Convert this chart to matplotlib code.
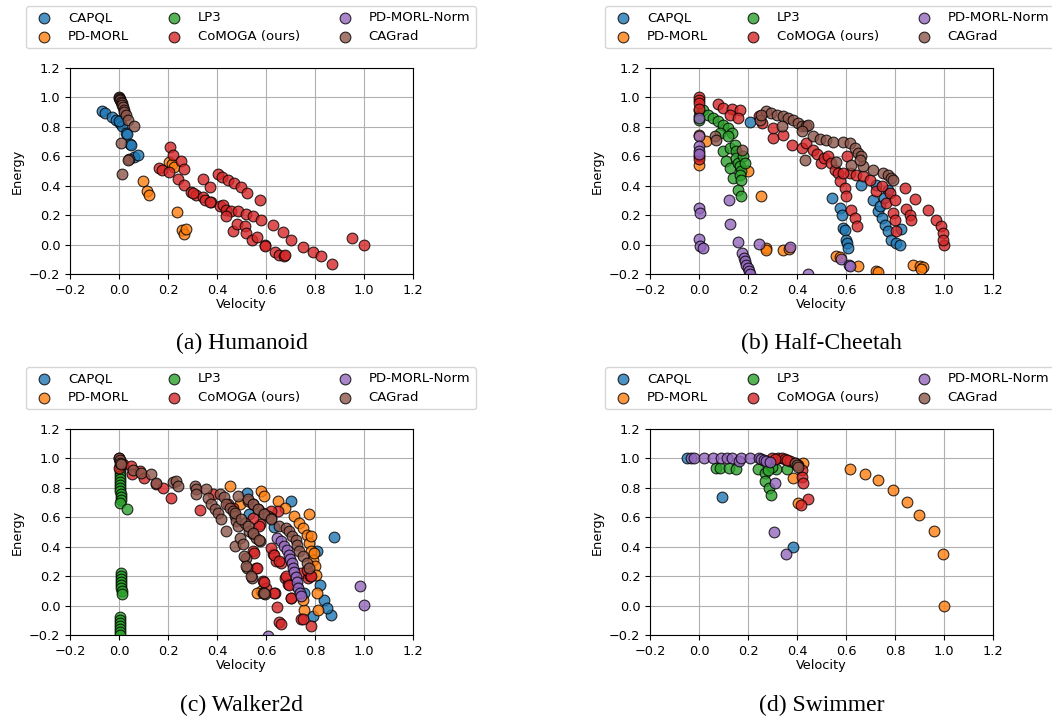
import matplotlib
matplotlib.use("Agg")
import matplotlib.pyplot as plt
import numpy as np

plt.rcParams['font.size'] = 9.3

methods = ['CAPQL', 'PD-MORL', 'LP3', 'CoMOGA (ours)', 'PD-MORL-Norm', 'CAGrad']
colors = ['tab:blue', 'tab:orange', 'tab:green', 'tab:red', 'tab:purple', 'tab:brown']
ticks = [-0.2, 0.0, 0.2, 0.4, 0.6, 0.8, 1.0, 1.2]

# (velocity, energy) pairs

# ---- (a) Humanoid
hum_capql = [(-0.068, 0.91), (-0.058, 0.896), (-0.027, 0.87), (-0.011, 0.846), (0.003, 0.824),
             (0.014, 0.806), (0.027, 0.756), (0.034, 0.75), (0.043, 0.684), (0.047, 0.677),
             (0.061, 0.598), (0.078, 0.61), (0.0, 0.84)]
hum_pdmorl = [(0.097, 0.431), (0.115, 0.361), (0.122, 0.339), (0.205, 0.564), (0.215, 0.55),
              (0.223, 0.53), (0.236, 0.221), (0.259, 0.097), (0.266, 0.074), (0.273, 0.106)]
hum_lp3 = []
hum_comoga = [(0.209, 0.666), (0.22, 0.609), (0.254, 0.569), (0.264, 0.515), (0.162, 0.519),
              (0.176, 0.508), (0.203, 0.49), (0.239, 0.445), (0.266, 0.406), (0.293, 0.354),
              (0.315, 0.339), (0.341, 0.32), (0.351, 0.305), (0.374, 0.287), (0.341, 0.445),
              (0.372, 0.39), (0.403, 0.479), (0.422, 0.458), (0.443, 0.44), (0.469, 0.418),
              (0.497, 0.39), (0.524, 0.35), (0.574, 0.305), (0.412, 0.26), (0.426, 0.271),
              (0.436, 0.237), (0.459, 0.226), (0.486, 0.226), (0.518, 0.21), (0.547, 0.192),
              (0.578, 0.169), (0.628, 0.131), (0.669, 0.084), (0.703, 0.034), (0.75, -0.016),
              (0.791, -0.052), (0.824, -0.079), (0.869, -0.131), (0.436, 0.192), (0.466, 0.095),
              (0.482, 0.14), (0.514, 0.129), (0.52, 0.079), (0.541, 0.034), (0.564, 0.052),
              (0.595, 0.0), (0.597, -0.011), (0.635, -0.05), (0.653, -0.068), (0.672, -0.079),
              (0.676, -0.074), (0.953, 0.045), (1.0, 0.0), (0.3, 0.35), (0.37, 0.29)]
hum_pdnorm = []
hum_cagrad = [(0.0, 1.0), (0.002, 0.995), (0.005, 0.99), (0.004, 0.98), (0.008, 0.97),
              (0.011, 0.96), (0.012, 0.95), (0.016, 0.937), (0.02, 0.914), (0.022, 0.9),
              (0.027, 0.88), (0.038, 0.846), (0.061, 0.806), (0.009, 0.688), (0.04, 0.582),
              (0.035, 0.576), (0.014, 0.48)]

# ---- (b) Half-Cheetah
hc_capql = [(0.207, 0.83), (0.544, 0.317), (0.574, 0.249), (0.585, 0.204), (0.588, 0.113),
            (0.595, 0.102), (0.601, 0.034), (0.604, 0.011), (0.608, -0.023), (0.663, 0.407),
            (0.71, 0.305), (0.731, 0.226), (0.745, 0.181), (0.758, 0.136), (0.771, 0.09),
            (0.785, 0.034), (0.805, 0.011), (0.819, 0.0), (0.826, 0.106), (0.771, 0.373),
            (0.724, 0.407), (0.738, 0.26), (0.755, 0.317)]
hc_pdmorl = [(0.0, 0.747), (0.0, 0.543), (0.03, 0.701), (0.2, 0.502), (0.253, 0.328),
             (0.272, -0.023), (0.275, -0.038), (0.343, -0.038), (0.367, -0.029), (0.561, -0.075),
             (0.574, -0.084), (0.649, -0.147), (0.724, -0.181), (0.731, -0.188), (0.873, -0.14),
             (0.901, -0.147), (0.915, -0.154), (0.908, -0.165)]
hc_lp3 = [(0.0, 0.916), (0.0, 0.871), (0.0, 0.848), (0.016, 0.916), (0.037, 0.882),
          (0.057, 0.86), (0.078, 0.837), (0.098, 0.814), (0.118, 0.792), (0.135, 0.758),
          (0.084, 0.758), (0.118, 0.735), (0.098, 0.633), (0.125, 0.656), (0.146, 0.679),
          (0.152, 0.633), (0.112, 0.566), (0.125, 0.52), (0.139, 0.452), (0.15, 0.588),
          (0.159, 0.554), (0.166, 0.532), (0.173, 0.498), (0.166, 0.475), (0.173, 0.441),
          (0.159, 0.373), (0.173, 0.328), (0.18, 0.6), (0.186, 0.554)]
hc_comoga = [(0.0, 1.0), (0.0, 0.985), (0.0, 0.96), (0.0, 0.92), (0.0, 0.6), (0.0, 0.58),
             (0.078, 0.957), (0.098, 0.928), (0.136, 0.921), (0.166, 0.916), (0.125, 0.882),
             (0.159, 0.86), (0.244, 0.871), (0.259, 0.826), (0.302, 0.724), (0.302, 0.792),
             (0.343, 0.747), (0.38, 0.679), (0.422, 0.656), (0.435, 0.69), (0.465, 0.645),
             (0.481, 0.618), (0.499, 0.554), (0.51, 0.588), (0.527, 0.6), (0.54, 0.554),
             (0.554, 0.509), (0.567, 0.486), (0.574, 0.43), (0.595, 0.385), (0.599, 0.328),
             (0.604, 0.6), (0.615, 0.486), (0.622, 0.238), (0.635, 0.181), (0.645, 0.124),
             (0.588, 0.486), (0.642, 0.475), (0.669, 0.464), (0.697, 0.441), (0.724, 0.362),
             (0.745, 0.396), (0.765, 0.283), (0.778, 0.351), (0.792, 0.215), (0.799, 0.17),
             (0.805, 0.09), (0.799, 0.305), (0.839, 0.385), (0.88, 0.31), (0.846, 0.242),
             (0.86, 0.204), (0.867, 0.17), (0.935, 0.238), (0.969, 0.17), (0.989, 0.124),
             (0.996, 0.079), (1.0, 0.0), (0.996, 0.034)]
hc_pdnorm = [(0.0, 0.86), (0.0, 0.735), (0.0, 0.667), (0.0, 0.633), (0.0, 0.618),
             (0.0, 0.249), (0.005, 0.215), (0.0, 0.038), (0.005, -0.011), (0.016, -0.023),
             (0.121, 0.301), (0.128, 0.143), (0.161, 0.016), (0.177, -0.057), (0.182, -0.09),
             (0.188, -0.113), (0.193, -0.136), (0.199, -0.158), (0.204, -0.181), (0.209, -0.197),
             (0.244, 0.007), (0.373, -0.016), (0.445, -0.2), (0.581, -0.097), (0.612, -0.136),
             (0.615, -0.147)]
hc_cagrad = [(0.272, 0.905), (0.295, 0.894), (0.318, 0.882), (0.343, 0.871), (0.363, 0.86),
             (0.384, 0.844), (0.404, 0.826), (0.422, 0.808), (0.438, 0.803), (0.445, 0.815),
             (0.248, 0.848), (0.255, 0.882), (0.064, 0.735), (0.071, 0.713), (0.177, 0.645),
             (0.337, 0.803), (0.419, 0.769), (0.431, 0.577), (0.465, 0.735), (0.493, 0.717),
             (0.52, 0.708), (0.547, 0.695), (0.588, 0.695), (0.615, 0.69), (0.635, 0.656),
             (0.649, 0.622), (0.663, 0.6), (0.561, 0.559), (0.622, 0.543), (0.669, 0.532),
             (0.71, 0.509), (0.751, 0.486), (0.771, 0.475), (0.785, 0.452), (0.792, 0.441),
             (0.656, 0.577)]

# ---- (c) Walker2d
wk_capql = [(0.523, 0.762), (0.701, 0.71), (0.877, 0.467), (0.532, 0.619), (0.634, 0.535),
            (0.81, 0.37), (0.82, 0.138), (0.836, 0.041), (0.866, -0.061), (0.849, -0.016),
            (0.793, -0.073), (0.755, 0.086), (0.728, 0.131)]
wk_pdmorl = [(0.455, 0.812), (0.58, 0.778), (0.593, 0.744), (0.647, 0.714), (0.677, 0.664),
             (0.715, 0.608), (0.735, 0.562), (0.749, 0.528), (0.766, 0.483), (0.776, 0.426),
             (0.782, 0.37), (0.793, 0.313), (0.799, 0.268), (0.803, 0.211), (0.81, 0.086),
             (0.812, -0.032), (0.755, -0.032), (0.749, 0.041), (0.58, 0.098), (0.564, 0.086),
             (0.782, 0.472), (0.796, 0.358), (0.495, 0.692), (0.776, 0.619)]
wk_lp3 = [(0.003, 0.98), (0.003, 0.95), (0.004, 0.92), (0.004, 0.9), (0.005, 0.88),
          (0.005, 0.86), (0.005, 0.84), (0.006, 0.82), (0.006, 0.8), (0.006, 0.78),
          (0.007, 0.76), (0.007, 0.74), (0.007, 0.72), (0.005, 0.70), (0.034, 0.658),
          (0.008, 0.22), (0.008, 0.2), (0.009, 0.18), (0.009, 0.16), (0.01, 0.14),
          (0.01, 0.12), (0.011, 0.1), (0.012, 0.08), (0.005, -0.08), (0.005, -0.1),
          (0.005, -0.12), (0.005, -0.14), (0.005, -0.16), (0.005, -0.18), (0.005, -0.2)]
wk_comoga = [(0.0, 1.0), (0.0, 0.937), (0.016, 0.964), (0.048, 0.948), (0.053, 0.891),
             (0.084, 0.914), (0.101, 0.869), (0.152, 0.824), (0.18, 0.801), (0.214, 0.733),
             (0.329, 0.647), (0.384, 0.756), (0.445, 0.688), (0.465, 0.665), (0.574, 0.552),
             (0.547, 0.371), (0.561, 0.258), (0.588, 0.167), (0.601, 0.122), (0.638, 0.088),
             (0.645, -0.009), (0.652, -0.115), (0.663, -0.127), (0.703, 0.054), (0.744, -0.093),
             (0.785, -0.138), (0.629, 0.348), (0.642, 0.303), (0.663, 0.292), (0.676, 0.19),
             (0.69, 0.145), (0.744, 0.224), (0.771, 0.19), (0.649, 0.643), (0.778, 0.201),
             (0.573, 0.544), (0.62, 0.392), (0.634, 0.347), (0.654, 0.302), (0.68, 0.2),
             (0.695, 0.143), (0.701, 0.052), (0.749, -0.091), (0.769, 0.245), (0.782, 0.2),
             (0.553, 0.358), (0.564, 0.256), (0.593, 0.159), (0.634, 0.086), (0.546, 0.592),
             (0.62, 0.642)]
wk_pdnorm = [(0.645, 0.456), (0.661, 0.438), (0.674, 0.408), (0.684, 0.376), (0.692, 0.347),
             (0.699, 0.317), (0.705, 0.286), (0.711, 0.256), (0.715, 0.227), (0.722, 0.195),
             (0.726, 0.159), (0.732, 0.12), (0.738, 0.086), (0.742, 0.068), (0.982, 0.132),
             (0.999, 0.002), (0.607, -0.204)]
wk_cagrad = [(0.0, 1.0), (0.003, 0.99), (0.005, 0.97), (0.01, 0.959), (0.057, 0.919),
             (0.091, 0.903), (0.132, 0.891), (0.152, 0.835), (0.22, 0.842), (0.234, 0.846),
             (0.24, 0.812), (0.309, 0.812), (0.316, 0.79), (0.313, 0.756), (0.356, 0.79),
             (0.363, 0.733), (0.377, 0.688), (0.39, 0.654), (0.404, 0.631), (0.411, 0.756),
             (0.418, 0.586), (0.427, 0.738), (0.435, 0.507), (0.438, 0.688), (0.452, 0.665),
             (0.465, 0.643), (0.472, 0.609), (0.479, 0.575), (0.472, 0.405), (0.486, 0.541),
             (0.493, 0.462), (0.506, 0.416), (0.513, 0.563), (0.52, 0.326), (0.522, 0.258),
             (0.531, 0.507), (0.547, 0.484), (0.561, 0.462), (0.574, 0.439), (0.544, 0.19),
             (0.588, 0.088), (0.595, 0.077), (0.527, 0.71), (0.547, 0.688), (0.567, 0.654),
             (0.588, 0.631), (0.608, 0.609), (0.622, 0.597), (0.485, 0.744), (0.526, 0.721),
             (0.546, 0.687), (0.566, 0.653), (0.593, 0.619), (0.62, 0.59), (0.654, 0.544),
             (0.68, 0.528), (0.695, 0.506), (0.708, 0.476), (0.722, 0.449), (0.728, 0.415),
             (0.735, 0.37), (0.749, 0.336), (0.766, 0.286), (0.776, 0.256), (0.472, 0.63),
             (0.499, 0.585), (0.526, 0.54), (0.546, 0.494), (0.572, 0.449), (0.593, 0.086),
             (0.512, 0.336), (0.519, 0.268), (0.539, 0.2)]

# ---- (d) Swimmer
sw_capql = [(-0.05, 1.0), (0.095, 0.735), (0.385, 0.398)]
sw_pdmorl = [(0.385, 0.864), (0.426, 0.966), (0.403, 0.695), (0.616, 0.928), (0.676, 0.894),
             (0.732, 0.853), (0.791, 0.785), (0.847, 0.706), (0.899, 0.615), (0.959, 0.507),
             (0.997, 0.348), (1.0, 0.0)]
sw_lp3 = [(0.068, 0.932), (0.085, 0.932), (0.122, 0.932), (0.153, 0.928), (0.241, 0.928),
          (0.27, 0.898), (0.268, 0.846), (0.284, 0.796), (0.295, 0.751), (0.315, 0.928),
          (0.358, 0.928), (0.297, 0.943), (0.28, 0.92)]
sw_comoga = [(0.297, 1.0), (0.324, 1.0), (0.338, 1.0), (0.351, 0.993), (0.372, 0.984),
             (0.392, 0.97), (0.405, 0.955), (0.419, 0.921), (0.419, 0.876), (0.423, 0.83),
             (0.443, 0.726), (0.415, 0.683), (0.31, 0.995), (0.36, 0.99)]
sw_pdnorm = [(-0.034, 1.0), (-0.02, 1.0), (0.02, 1.0), (0.057, 1.0), (0.088, 1.0),
             (0.115, 1.0), (0.135, 1.0), (0.162, 0.984), (0.173, 1.0), (0.209, 1.0),
             (0.243, 1.0), (0.254, 0.993), (0.264, 0.989), (0.273, 0.984), (0.291, 0.977),
             (0.311, 0.835), (0.308, 0.498), (0.355, 0.348)]
sw_cagrad = [(0.392, 0.97), (0.399, 0.957), (0.405, 0.943)]

panels = [
    ('(a) Humanoid', [hum_capql, hum_pdmorl, hum_lp3, hum_comoga, hum_pdnorm, hum_cagrad]),
    ('(b) Half-Cheetah', [hc_capql, hc_pdmorl, hc_lp3, hc_comoga, hc_pdnorm, hc_cagrad]),
    ('(c) Walker2d', [wk_capql, wk_pdmorl, wk_lp3, wk_comoga, wk_pdnorm, wk_cagrad]),
    ('(d) Swimmer', [sw_capql, sw_pdmorl, sw_lp3, sw_comoga, sw_pdnorm, sw_cagrad]),
]

W, H = 1052, 717
fig = plt.figure(figsize=(W / 100, H / 100), dpi=100)

# pixel layout: axes left/top, legend left/top, caption centre y
ax_left = [70, 650, 70, 650]
ax_top = [68, 68, 429, 429]
leg_left = [26, 605, 26, 605]
leg_top = [6, 6, 367, 367]
cap_y = [343, 343, 705, 705]
ax_w, ax_h = 343, 206

for i, (caption, series) in enumerate(panels):
    ax = fig.add_axes([ax_left[i] / W, 1 - (ax_top[i] + ax_h) / H, ax_w / W, ax_h / H])
    ax.set_axisbelow(True)
    for name, col, pts in zip(methods, colors, series):
        if len(pts) == 0:
            ax.scatter([], [], s=60, color=col, alpha=0.8, edgecolors='k', linewidths=0.8, label=name)
            continue
        v, e = np.array(pts).T
        ax.scatter(v, e, s=60, color=col, alpha=0.8, edgecolors='k', linewidths=0.8, label=name)
    ax.set_xlim(-0.2, 1.2)
    ax.set_ylim(-0.2, 1.2)
    ax.set_xticks(ticks)
    ax.set_yticks(ticks)
    ax.grid(True)
    ax.set_xlabel('Velocity', labelpad=1)
    ax.set_ylabel('Energy')
    ax.legend(loc='upper left', bbox_to_anchor=(leg_left[i] / W, 1 - leg_top[i] / H),
              bbox_transform=fig.transFigure, ncol=3, fontsize=9.5, columnspacing=2.4,
              borderaxespad=0, labelspacing=0.45)
    fig.text((ax_left[i] + ax_w / 2) / W, 1 - cap_y[i] / H, caption,
             ha='center', va='center', fontsize=17, family='Liberation Serif')

plt.savefig('out.png', dpi=100)
plt.close()
